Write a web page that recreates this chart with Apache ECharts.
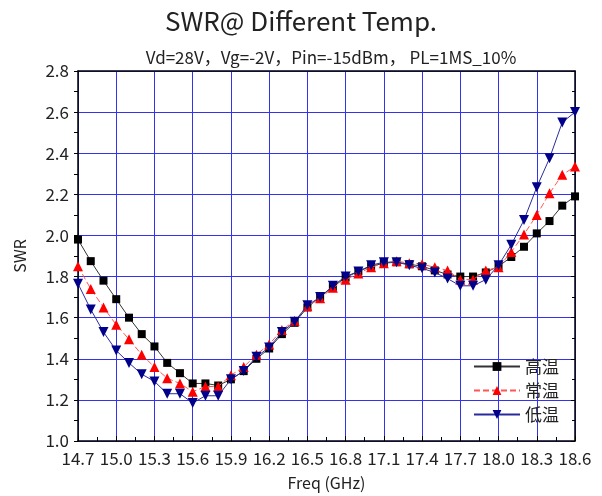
<!DOCTYPE html>
<html>
<head>
<meta charset="utf-8">
<script src="https://cdn.jsdelivr.net/npm/echarts@6/dist/echarts.min.js"></script>
<style>
  html, body { margin: 0; padding: 0; background: #fff; }
  #chart { width: 602px; height: 496px; }
</style>
</head>
<body>
<div id="chart"></div>
<script>
// 频率点 (GHz)
var freqs = [14.7, 14.8, 14.9, 15.0, 15.1, 15.2, 15.3, 15.4, 15.5, 15.6,
  15.7, 15.8, 15.9, 16.0, 16.1, 16.2, 16.3, 16.4, 16.5, 16.6,
  16.7, 16.8, 16.9, 17.0, 17.1, 17.2, 17.3, 17.4, 17.5, 17.6,
  17.7, 17.8, 17.9, 18.0, 18.1, 18.2, 18.3, 18.4, 18.5, 18.6]

var swrHigh = [1.98, 1.875, 1.78, 1.69, 1.60, 1.52, 1.46, 1.38, 1.33, 1.28,
  1.28, 1.27, 1.30, 1.34, 1.40, 1.45, 1.52, 1.575, 1.65, 1.70,
  1.75, 1.795, 1.825, 1.85, 1.865, 1.87, 1.86, 1.85, 1.83, 1.81,
  1.80, 1.80, 1.82, 1.85, 1.895, 1.945, 2.01, 2.07, 2.145, 2.19]

var swrNormal = [1.85, 1.74, 1.65, 1.565, 1.495, 1.42, 1.36, 1.305, 1.28, 1.24,
  1.265, 1.265, 1.32, 1.36, 1.42, 1.47, 1.54, 1.585, 1.655, 1.695,
  1.745, 1.785, 1.815, 1.845, 1.865, 1.875, 1.865, 1.86, 1.845, 1.83,
  1.785, 1.785, 1.83, 1.845, 1.92, 2.005, 2.10, 2.205, 2.295, 2.335]

var swrLow = [1.765, 1.64, 1.53, 1.44, 1.38, 1.325, 1.29, 1.23, 1.23, 1.185,
  1.22, 1.22, 1.30, 1.34, 1.41, 1.455, 1.53, 1.58, 1.66, 1.70,
  1.755, 1.80, 1.825, 1.855, 1.87, 1.87, 1.855, 1.84, 1.82, 1.79,
  1.755, 1.755, 1.785, 1.855, 1.955, 2.075, 2.235, 2.375, 2.55, 2.60]

var seriesNames = ['高温', '常温', '低温']

function pairs (ys) {
  return freqs.map(function (f, i) { return [f, ys[i]] })
}

var chart = echarts.init(document.getElementById('chart'))
var font = 'Noto Sans CJK SC'
var option = {
  animation: false,
  textStyle: { fontFamily: font },
  title: [
    {
      text: 'SWR@ Different Temp.',
      left: 'center',
      top: 3,
      textStyle: { fontSize: 26, fontWeight: 'normal', color: '#222', fontFamily: font }
    },
    {
      text: 'Vd=28V，Vg=-2V，Pin=-15dBm， PL=1MS_10%',
      left: 326,
      textAlign: 'center',
      top: 44,
      textStyle: { fontSize: 17, fontWeight: 'normal', color: '#222', fontFamily: font }
    }
  ],
  legend: {
    orient: 'vertical',
    right: 38,
    top: 353,
    itemWidth: 46,
    itemHeight: 11,
    itemGap: 7,
    textStyle: { fontSize: 17, color: '#222', fontFamily: font },
    data: seriesNames
  },
  grid: { left: 78, right: 27, top: 71, bottom: 55 },
  xAxis: [
    {
      type: 'value',
      min: 14.7,
      max: 18.6,
      interval: 0.3,
      name: 'Freq (GHz)',
      nameLocation: 'middle',
      nameGap: 34,
      nameTextStyle: { fontSize: 16, color: '#222', fontFamily: font },
      axisLine: { lineStyle: { color: '#000', width: 1.5 } },
      axisTick: { inside: true, length: 5, lineStyle: { color: '#000' } },
      minorTick: { show: true, splitNumber: 2, length: 4, lineStyle: { color: '#000' } },
      axisLabel: {
        fontSize: 17, color: '#222', margin: 9, fontFamily: font,
        formatter: function (v) { return v.toFixed(1) }
      },
      splitLine: { show: true, lineStyle: { color: '#3333ee', width: 1 } }
    },
    {
      type: 'value',
      position: 'top',
      min: 14.7,
      max: 18.6,
      interval: 0.3,
      axisLine: { show: true, lineStyle: { color: '#000', width: 1.5 } },
      axisTick: { show: false },
      axisLabel: { show: false },
      splitLine: { show: false }
    }
  ],
  yAxis: [
    {
      type: 'value',
      min: 1.0,
      max: 2.8,
      interval: 0.2,
      name: 'SWR',
      nameLocation: 'middle',
      nameGap: 50,
      nameTextStyle: { fontSize: 16, color: '#222', fontFamily: font },
      axisLine: { show: true, lineStyle: { color: '#000', width: 1.5 } },
      axisTick: { show: true, inside: false, length: 4, lineStyle: { color: '#000' } },
      minorTick: { show: true, splitNumber: 2, length: 4, lineStyle: { color: '#000' } },
      axisLabel: {
        fontSize: 17, color: '#222', margin: 9, fontFamily: font,
        formatter: function (v) { return v.toFixed(1) }
      },
      splitLine: { show: true, lineStyle: { color: '#3333ee', width: 1 } }
    },
    {
      type: 'value',
      position: 'right',
      min: 1.0,
      max: 2.8,
      interval: 0.2,
      axisLine: { show: true, lineStyle: { color: '#000', width: 1.5 } },
      axisTick: { show: true, inside: true, length: 4, lineStyle: { color: '#000' } },
      minorTick: { show: true, splitNumber: 2, length: 3, lineStyle: { color: '#000' } },
      axisLabel: { show: false },
      splitLine: { show: false }
    }
  ],
  series: [
    {
      name: seriesNames[0],
      type: 'line',
      data: pairs(swrHigh),
      symbol: 'rect',
      symbolSize: 8,
      itemStyle: { color: '#000' },
      lineStyle: { color: '#333', width: 1 },
      z: 3
    },
    {
      name: seriesNames[1],
      type: 'line',
      data: pairs(swrNormal),
      symbol: 'triangle',
      symbolSize: 10,
      itemStyle: { color: '#ff0000' },
      lineStyle: { color: '#ff5555', width: 1, type: [6, 3] },
      z: 4
    },
    {
      name: seriesNames[2],
      type: 'line',
      data: pairs(swrLow),
      symbol: 'triangle',
      symbolRotate: 180,
      symbolSize: 10,
      itemStyle: { color: '#00008b' },
      lineStyle: { color: '#2a2aa0', width: 1 },
      z: 5
    }
  ]
}
chart.setOption(option)
</script>
</body>
</html>
